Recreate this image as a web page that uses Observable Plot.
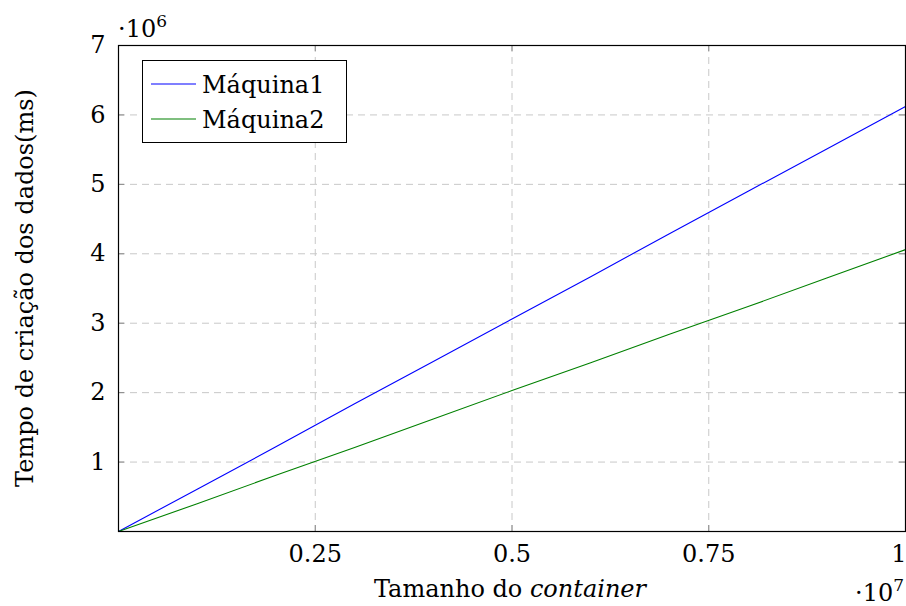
<!DOCTYPE html>
<html><head><meta charset="utf-8">
<script src="https://cdn.jsdelivr.net/npm/d3@7"></script>
<script src="https://cdn.jsdelivr.net/npm/@observablehq/plot@0.6"></script>
<style>body{margin:0;background:#fff} svg{display:block}</style>
</head><body><div id="chart"></div>
<script>
const sizes = [0, 1e6, 2e6, 3e6, 4e6, 5e6, 6e6, 7e6, 8e6, 9e6, 1e7];
const maquina1 = [0, 0.61e6, 1.22e6, 1.84e6, 2.45e6, 3.06e6, 3.67e6, 4.29e6, 4.90e6, 5.51e6, 6.12e6];
const maquina2 = [0, 0.40e6, 0.81e6, 1.21e6, 1.62e6, 2.03e6, 2.43e6, 2.84e6, 3.24e6, 3.65e6, 4.06e6];
const seriesNames = ["Máquina1", "Máquina2"];
const seriesColors = ["#0000ff", "#008000"];
const xTicks = [0.25e7, 0.5e7, 0.75e7, 1e7];
const xTickLabels = ["0.25", "0.5", "0.75", "1"];
const yTicks = [1e6, 2e6, 3e6, 4e6, 5e6, 6e6, 7e6];
const yTickLabels = ["1", "2", "3", "4", "5", "6", "7"];
const xLabelMain = "Tamanho do ";
const xLabelItalic = "container";
const yLabel = "Tempo de criação dos dados(ms)";
const xExp = "7", yExp = "6";

const data = sizes.flatMap((s, i) => [
  {x: s, y: maquina1[i], serie: seriesNames[0]},
  {x: s, y: maquina2[i], serie: seriesNames[1]}
]);

const W = 906, H = 606, ml = 118, mr = 1, mt = 45, mb = 75;
const iw = W - ml - mr, ih = H - mt - mb;
const font = "DejaVu Serif";
const gridStyle = {stroke: "#c8c8c8", strokeOpacity: 1, strokeWidth: 1, strokeDasharray: "7,5"};
const tickStyle = {stroke: "#888", strokeOpacity: 1, strokeWidth: 1};
const xFmt = d => xTickLabels[xTicks.indexOf(d)];

const plot = Plot.plot({
  width: W, height: H,
  marginLeft: ml, marginRight: mr, marginTop: mt, marginBottom: mb,
  style: {fontFamily: font, fontSize: "24px", background: "#fff", color: "#000"},
  x: {domain: [0, 1e7]},
  y: {domain: [0, 7e6]},
  color: {domain: seriesNames, range: seriesColors},
  marks: [
    Plot.gridX(xTicks.slice(0, 3), gridStyle),
    Plot.gridY(yTicks.slice(0, 6), gridStyle),
    Plot.tickX(xTicks, {x: d => d, insetTop: ih - 6, ...tickStyle}),
    Plot.tickX(xTicks, {x: d => d, insetBottom: ih - 6, ...tickStyle}),
    Plot.tickY(yTicks, {y: d => d, insetRight: iw - 6, ...tickStyle}),
    Plot.tickY(yTicks, {y: d => d, insetLeft: iw - 6, ...tickStyle}),
    Plot.line(data, {x: "x", y: "y", stroke: "serie", strokeWidth: 1.1}),
    Plot.frame({stroke: "#000", strokeWidth: 1.2}),
    Plot.axisX(xTicks.slice(0, 3), {tickSize: 0, tickPadding: 13, fontSize: 24, label: null, tickFormat: xFmt}),
    Plot.axisX(xTicks.slice(3), {tickSize: 0, tickPadding: 13, fontSize: 24, label: null, tickFormat: xFmt,
      textAnchor: "end", dx: 1}),
    Plot.axisY(yTicks, {tickSize: 0, tickPadding: 13, fontSize: 24, label: null,
      tickFormat: d => yTickLabels[yTicks.indexOf(d)]})
  ]
});
document.getElementById("chart").appendChild(plot);

const svg = d3.select(plot);
const g = svg.append("g").attr("font-family", font).attr("fill", "#000").attr("text-anchor", "start");

// x label
const xl = g.append("text").attr("x", 510).attr("y", 597).attr("text-anchor", "middle").attr("font-size", 24);
xl.append("tspan").text(xLabelMain);
xl.append("tspan").attr("font-style", "italic").text(xLabelItalic);

// y label
g.append("text").attr("transform", "translate(33,288) rotate(-90)")
  .attr("text-anchor", "middle").attr("font-size", 24).text(yLabel);

// exponent labels
function expLabel(x, y, anchor, exp) {
  const t = g.append("text").attr("x", x).attr("y", y).attr("text-anchor", anchor).attr("font-size", 24);
  t.append("tspan").text("·10");
  t.append("tspan").attr("font-size", 17).attr("dy", -10).text(exp);
}
expLabel(118, 37, "start", yExp);
expLabel(904, 601, "end", xExp);

// legend
const lg = g.append("g");
lg.append("rect").attr("x", 142.5).attr("y", 60.5).attr("width", 204).attr("height", 82)
  .attr("fill", "#fff").attr("stroke", "#000").attr("stroke-width", 1);
seriesNames.forEach((name, i) => {
  const yy = 84 + i * 35;
  lg.append("line").attr("x1", 151).attr("x2", 196).attr("y1", yy).attr("y2", yy)
    .attr("stroke", seriesColors[i]).attr("stroke-width", 1.1);
  lg.append("text").attr("x", 202).attr("y", yy + 8.5).attr("text-anchor", "start")
    .attr("font-size", 24).text(name);
});
</script>
</body></html>
